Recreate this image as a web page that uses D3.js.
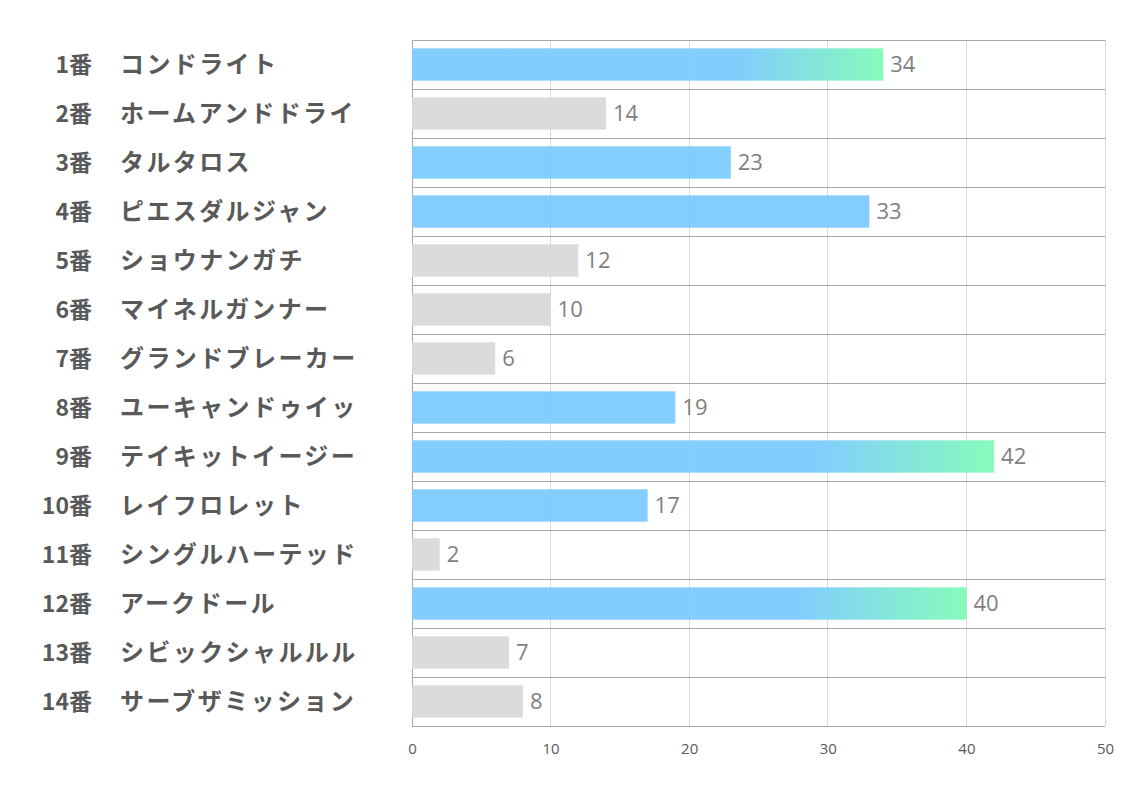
<!DOCTYPE html>
<html><head><meta charset="utf-8">
<script src="https://cdn.jsdelivr.net/npm/d3@7"></script>
<style>body{margin:0;background:#fff}</style>
</head><body>
<svg id="c" width="1134" height="793"></svg>
<script>
const numbers = ["1番","2番","3番","4番","5番","6番","7番","8番","9番","10番","11番","12番","13番","14番"];
const names = ["コンドライト","ホームアンドドライ","タルタロス","ピエスダルジャン","ショウナンガチ","マイネルガンナー","グランドブレーカー","ユーキャンドゥイッ","テイキットイージー","レイフロレット","シングルハーテッド","アークドール","シビックシャルルル","サーブザミッション"];
const values = [34,14,23,33,12,10,6,19,42,17,2,40,7,8];
const highlight = [true,false,true,true,false,false,false,true,true,true,false,true,false,false];
const gradientBars = [true,false,false,false,false,false,false,false,true,false,false,true,false,false];
const xTicks = [0,10,20,30,40,50];

const svg = d3.select("#c");
const L=412, R=1105, T=40, B=726;
const x = d3.scaleLinear().domain([0,50]).range([L,R]);
const y = d3.scaleBand().domain(d3.range(values.length)).range([T,B]).paddingInner(0.34).paddingOuter(0.17);

const defs = svg.append("defs");
const grad = defs.append("linearGradient").attr("id","g").attr("x1","0").attr("x2","1").attr("y1","0").attr("y2","0");
grad.append("stop").attr("offset","0.7").attr("stop-color","#7ccbfd");
grad.append("stop").attr("offset","1").attr("stop-color","#80fbb8");

// vertical grid
svg.append("g").selectAll("line").data(xTicks).join("line")
  .attr("x1",d=>x(d)).attr("x2",d=>x(d)).attr("y1",T).attr("y2",B)
  .attr("stroke","#d9d9d9").attr("stroke-width",1).attr("shape-rendering","crispEdges");
// horizontal separators
const seps = d3.range(values.length+1).map(i=>T+i*(B-T)/values.length);
svg.append("g").selectAll("line").data(seps).join("line")
  .attr("x1",L).attr("x2",R).attr("y1",d=>d).attr("y2",d=>d)
  .attr("stroke","#a6a6a6").attr("stroke-width",1).attr("shape-rendering","crispEdges");
svg.append("line").attr("x1",L).attr("x2",L).attr("y1",T).attr("y2",B).attr("stroke","#a6a6a6").attr("shape-rendering","crispEdges");

// bars
svg.append("g").selectAll("rect").data(values).join("rect")
  .attr("x",x(0)).attr("y",(d,i)=>y(i)).attr("height",y.bandwidth())
  .attr("width",d=>x(d)-x(0))
  .attr("fill",(d,i)=>gradientBars[i]?"url(#g)":(highlight[i]?"#7ccbfd":"#d9d9d9"))
  .attr("fill-opacity",0.95);

// value labels
svg.append("g").selectAll("text").data(values).join("text")
  .attr("x",d=>x(d)+7).attr("y",(d,i)=>y(i)+y.bandwidth()/2)
  .attr("dy","0.36em").attr("font-family","'Open Sans', 'Noto Sans', sans-serif")
  .attr("font-size",22).attr("fill","#7f7f7f").text(d=>d);

// category labels
const lab = svg.append("g").attr("font-family","'Noto Sans CJK JP', sans-serif").attr("font-weight","bold").attr("font-size",24).attr("fill","#595959");
lab.selectAll("text.n").data(numbers).join("text").attr("class","n")
  .attr("x",92).attr("y",(d,i)=>y(i)+y.bandwidth()/2).attr("dy","0.36em").attr("text-anchor","end")
  .attr("font-size",23).text(d=>d);
lab.selectAll("text.m").data(names).join("text").attr("class","m")
  .attr("x",120).attr("y",(d,i)=>y(i)+y.bandwidth()/2).attr("dy","0.36em").attr("letter-spacing","2.4").text(d=>d);

// x axis
const ax = svg.append("g").attr("transform",`translate(0,${B})`).call(d3.axisBottom(x).tickValues(xTicks).tickSize(0).tickPadding(17));
ax.select(".domain").remove();
ax.selectAll("text").attr("font-family","'Open Sans', 'Noto Sans', sans-serif").attr("font-size",15).attr("fill","#595959");
</script>
</body></html>
